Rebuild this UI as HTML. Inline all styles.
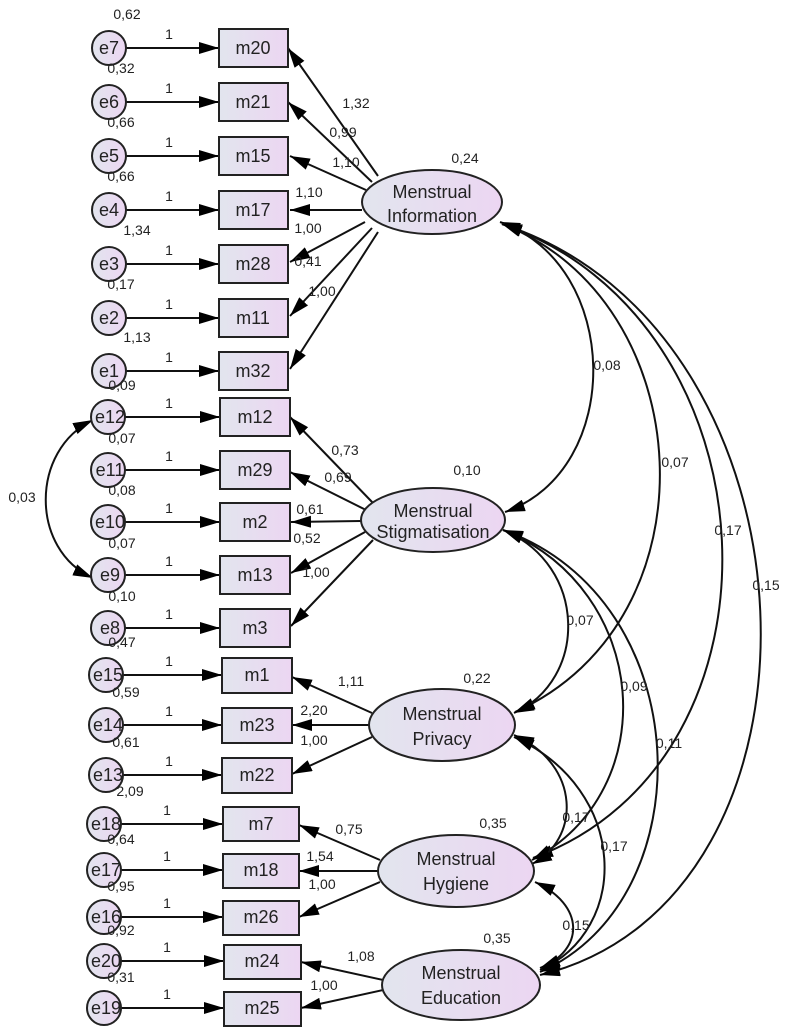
<!DOCTYPE html>
<html><head><meta charset="utf-8"><style>
html,body{margin:0;padding:0;background:#fff}
svg{display:block}
text{font-family:"Liberation Sans",Arial,sans-serif;fill:#222}
.s{font-size:14px}
.b{font-size:18px}
</style></head><body>
<svg width="788" height="1032" viewBox="0 0 788 1032" xmlns="http://www.w3.org/2000/svg">
<defs>
<linearGradient id="g" x1="0" y1="0" x2="1" y2="0"><stop offset="0" stop-color="#e2e5ee"/><stop offset="1" stop-color="#ecd6f2"/></linearGradient>
<marker id="a" viewBox="0 0 20 12" refX="20" refY="6" markerWidth="20" markerHeight="12" markerUnits="userSpaceOnUse" orient="auto-start-reverse"><path d="M0,0 L20,6 L0,12 z" fill="#000"/></marker>
</defs>
<g stroke="#111" stroke-width="2" fill="none">
<path d="M126,48 H219" marker-end="url(#a)"/>
<path d="M126,102 H219" marker-end="url(#a)"/>
<path d="M126,156 H219" marker-end="url(#a)"/>
<path d="M126,210 H219" marker-end="url(#a)"/>
<path d="M126,264 H219" marker-end="url(#a)"/>
<path d="M126,318 H219" marker-end="url(#a)"/>
<path d="M126,371 H219" marker-end="url(#a)"/>
<path d="M124,417 H220" marker-end="url(#a)"/>
<path d="M124,470 H220" marker-end="url(#a)"/>
<path d="M124,522 H220" marker-end="url(#a)"/>
<path d="M124,575 H220" marker-end="url(#a)"/>
<path d="M124,628 H220" marker-end="url(#a)"/>
<path d="M122,675 H222" marker-end="url(#a)"/>
<path d="M122,725 H222" marker-end="url(#a)"/>
<path d="M122,775 H222" marker-end="url(#a)"/>
<path d="M120,824 H223" marker-end="url(#a)"/>
<path d="M120,870 H223" marker-end="url(#a)"/>
<path d="M120,917 H223" marker-end="url(#a)"/>
<path d="M120,961 H224" marker-end="url(#a)"/>
<path d="M120,1008 H224" marker-end="url(#a)"/>
<path d="M378,176 L288,48" marker-end="url(#a)"/>
<path d="M372,182 L288,102" marker-end="url(#a)"/>
<path d="M366,190 L290,156" marker-end="url(#a)"/>
<path d="M362,210 L290,210" marker-end="url(#a)"/>
<path d="M365,222 L290,262" marker-end="url(#a)"/>
<path d="M372,228 L290,316" marker-end="url(#a)"/>
<path d="M378,232 L290,369" marker-end="url(#a)"/>
<path d="M373,503 L290,417" marker-end="url(#a)"/>
<path d="M366,510 L290,472" marker-end="url(#a)"/>
<path d="M361,521 L291,522" marker-end="url(#a)"/>
<path d="M365,532 L291,573" marker-end="url(#a)"/>
<path d="M373,540 L291,626" marker-end="url(#a)"/>
<path d="M372,713 L292,677" marker-end="url(#a)"/>
<path d="M369,725 L292,725" marker-end="url(#a)"/>
<path d="M372,737 L292,774" marker-end="url(#a)"/>
<path d="M380,860 L299,825" marker-end="url(#a)"/>
<path d="M378,871 L299,871" marker-end="url(#a)"/>
<path d="M380,882 L299,917" marker-end="url(#a)"/>
<path d="M383,980 L301,962" marker-end="url(#a)"/>
<path d="M383,990 L301,1008" marker-end="url(#a)"/>
<path d="M93,420 C30,450 30,550 93,578" marker-start="url(#a)" marker-end="url(#a)"/>
<path d="M500,222 C622,265 625,470 505,512" marker-start="url(#a)" marker-end="url(#a)"/>
<path d="M502,224 C700,300 720,620 515,712" marker-start="url(#a)" marker-end="url(#a)"/>
<path d="M502,224 C780,320 800,760 533,858" marker-start="url(#a)" marker-end="url(#a)"/>
<path d="M502,224 C830,330 850,900 540,975" marker-start="url(#a)" marker-end="url(#a)"/>
<path d="M503,530 C588,565 588,680 514,713" marker-start="url(#a)" marker-end="url(#a)"/>
<path d="M503,530 C650,590 665,790 532,860" marker-start="url(#a)" marker-end="url(#a)"/>
<path d="M503,530 C700,600 705,900 540,972" marker-start="url(#a)" marker-end="url(#a)"/>
<path d="M514,735 C582,765 580,840 532,864" marker-start="url(#a)" marker-end="url(#a)"/>
<path d="M514,737 C630,790 630,930 540,970" marker-start="url(#a)" marker-end="url(#a)"/>
<path d="M535,882 C585,905 585,950 540,968" marker-start="url(#a)" marker-end="url(#a)"/>
</g>
<g stroke="#222" stroke-width="2" fill="url(#g)">
<circle cx="109" cy="48" r="17"/><circle cx="109" cy="102" r="17"/><circle cx="109" cy="156" r="17"/><circle cx="109" cy="210" r="17"/><circle cx="109" cy="264" r="17"/><circle cx="109" cy="318" r="17"/><circle cx="109" cy="371" r="17"/>
<circle cx="108" cy="417" r="17"/><circle cx="108" cy="470" r="17"/><circle cx="108" cy="522" r="17"/><circle cx="108" cy="575" r="17"/><circle cx="108" cy="628" r="17"/>
<circle cx="106" cy="675" r="17"/><circle cx="106" cy="725" r="17"/><circle cx="106" cy="775" r="17"/>
<circle cx="104" cy="824" r="17"/><circle cx="104" cy="870" r="17"/><circle cx="104" cy="917" r="17"/><circle cx="104" cy="961" r="17"/><circle cx="104" cy="1008" r="17"/>
<rect x="219" y="29" width="69" height="38"/><rect x="219" y="83" width="69" height="38"/><rect x="219" y="137" width="69" height="38"/><rect x="219" y="191" width="69" height="38"/><rect x="219" y="245" width="69" height="38"/><rect x="219" y="299" width="69" height="38"/><rect x="219" y="352" width="69" height="38"/>
<rect x="220" y="398" width="70" height="38"/><rect x="220" y="451" width="70" height="38"/><rect x="220" y="503" width="70" height="38"/><rect x="220" y="556" width="70" height="38"/><rect x="220" y="609" width="70" height="38"/>
<rect x="222" y="658" width="70" height="35"/><rect x="222" y="708" width="70" height="35"/><rect x="222" y="758" width="70" height="35"/>
<rect x="223" y="807" width="76" height="34"/><rect x="223" y="854" width="76" height="34"/><rect x="223" y="901" width="76" height="34"/>
<rect x="224" y="945" width="77" height="34"/><rect x="224" y="992" width="77" height="34"/>
<ellipse cx="432" cy="202" rx="70" ry="32"/>
<ellipse cx="433" cy="520" rx="72" ry="32"/>
<ellipse cx="442" cy="725" rx="73" ry="36"/>
<ellipse cx="456" cy="871" rx="78" ry="36"/>
<ellipse cx="461" cy="985" rx="79" ry="35"/>
</g>
<g class="b" text-anchor="middle">
<text x="109" y="54">e7</text><text x="109" y="108">e6</text><text x="109" y="162">e5</text><text x="109" y="216">e4</text><text x="109" y="270">e3</text><text x="109" y="324">e2</text><text x="109" y="377">e1</text>
<text x="110" y="423">e12</text><text x="110" y="476">e11</text><text x="110" y="528">e10</text><text x="110" y="581">e9</text><text x="110" y="634">e8</text>
<text x="108" y="681">e15</text><text x="108" y="731">e14</text><text x="108" y="781">e13</text>
<text x="106" y="830">e18</text><text x="106" y="876">e17</text><text x="106" y="923">e16</text><text x="106" y="967">e20</text><text x="106" y="1014">e19</text>
<text x="253" y="54">m20</text><text x="253" y="108">m21</text><text x="253" y="162">m15</text><text x="253" y="216">m17</text><text x="253" y="270">m28</text><text x="253" y="324">m11</text><text x="253" y="377">m32</text>
<text x="255" y="423">m12</text><text x="255" y="476">m29</text><text x="255" y="528">m2</text><text x="255" y="581">m13</text><text x="255" y="634">m3</text>
<text x="257" y="681">m1</text><text x="257" y="731">m23</text><text x="257" y="781">m22</text>
<text x="261" y="830">m7</text><text x="261" y="876">m18</text><text x="261" y="923">m26</text><text x="262" y="967">m24</text><text x="262" y="1014">m25</text>
<text x="432" y="198">Menstrual</text><text x="432" y="222">Information</text>
<text x="433" y="517">Menstrual</text><text x="433" y="538">Stigmatisation</text>
<text x="442" y="720">Menstrual</text><text x="442" y="745">Privacy</text>
<text x="456" y="865">Menstrual</text><text x="456" y="890">Hygiene</text>
<text x="461" y="979">Menstrual</text><text x="461" y="1004">Education</text>
</g>
<g class="s" text-anchor="middle">
<text x="127" y="19">0,62</text><text x="121" y="73">0,32</text><text x="121" y="127">0,66</text><text x="121" y="181">0,66</text><text x="137" y="235">1,34</text><text x="121" y="289">0,17</text><text x="137" y="342">1,13</text>
<text x="122" y="390">0,09</text><text x="122" y="443">0,07</text><text x="122" y="495">0,08</text><text x="122" y="548">0,07</text><text x="122" y="601">0,10</text>
<text x="122" y="647">0,47</text><text x="126" y="697">0,59</text><text x="126" y="747">0,61</text>
<text x="130" y="796">2,09</text><text x="121" y="844">0,64</text><text x="121" y="891">0,95</text><text x="121" y="935">0,92</text><text x="121" y="982">0,31</text>
<text x="169" y="39">1</text><text x="169" y="93">1</text><text x="169" y="147">1</text><text x="169" y="201">1</text><text x="169" y="255">1</text><text x="169" y="309">1</text><text x="169" y="362">1</text>
<text x="169" y="408">1</text><text x="169" y="461">1</text><text x="169" y="513">1</text><text x="169" y="566">1</text><text x="169" y="619">1</text>
<text x="169" y="666">1</text><text x="169" y="716">1</text><text x="169" y="766">1</text><text x="167" y="815">1</text><text x="167" y="861">1</text><text x="167" y="908">1</text><text x="167" y="952">1</text><text x="167" y="999">1</text>
<text x="356" y="108">1,32</text><text x="343" y="137">0,99</text><text x="346" y="167">1,10</text><text x="309" y="197">1,10</text><text x="308" y="233">1,00</text><text x="308" y="266">0,41</text><text x="322" y="296">1,00</text>
<text x="345" y="455">0,73</text><text x="338" y="482">0,69</text><text x="310" y="514">0,61</text><text x="307" y="543">0,52</text><text x="316" y="577">1,00</text>
<text x="351" y="686">1,11</text><text x="314" y="715">2,20</text><text x="314" y="745">1,00</text>
<text x="349" y="834">0,75</text><text x="320" y="861">1,54</text><text x="322" y="889">1,00</text>
<text x="361" y="961">1,08</text><text x="324" y="990">1,00</text>
<text x="465" y="163">0,24</text><text x="467" y="475">0,10</text><text x="477" y="683">0,22</text><text x="493" y="828">0,35</text><text x="497" y="943">0,35</text>
<text x="22" y="502">0,03</text>
<text x="607" y="370">0,08</text><text x="675" y="467">0,07</text><text x="728" y="535">0,17</text><text x="766" y="590">0,15</text>
<text x="580" y="625">0,07</text><text x="634" y="691">0,09</text><text x="669" y="748">0,11</text>
<text x="576" y="822">0,17</text><text x="614" y="851">0,17</text><text x="576" y="930">0,15</text>
</g>
</svg>
</body></html>
